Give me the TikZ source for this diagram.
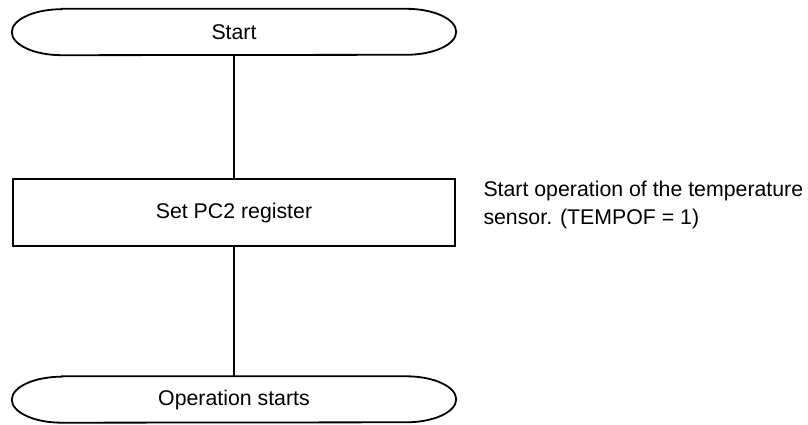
\documentclass[tikz,border=0pt]{standalone}
\usepackage{fontspec}
\setmainfont{Liberation Sans}
\begin{document}
\begin{tikzpicture}[x=1pt,y=1pt,
  lbl/.style={font=\fontsize{21.3}{28}\selectfont},
  termnode/.style={lbl, minimum width=444pt, minimum height=46pt, inner sep=0pt, draw=none},
  procbox/.style={lbl, draw, line width=1.8pt, minimum width=442.6pt, minimum height=67pt, inner sep=0pt},
  wire/.style={line width=1.8pt},
  noteline/.style={lbl, anchor=base west, inner sep=0pt}
]
\useasboundingbox (0,0) rectangle (808,425);
\node[termnode] (start) at (234,393) {Start};
\node[procbox] (set) at (234,212.2) {Set PC2 register};
\node[termnode] (opst) at (234,25.5) {Operation starts};
\node[noteline] (note1) at (483.3,228.3) {Start operation of the temperature};
\node[noteline] (note2) at (483.3,200.3) {sensor. (TEMPOF = 1)};
\foreach \n in {start,opst}{
  \draw[wire] ([xshift=50pt]\n.north west) -- ([xshift=-50pt]\n.north east)
    arc[start angle=90,end angle=-90,x radius=50pt,y radius=23pt]
    -- ([xshift=50pt]\n.south west)
    arc[start angle=270,end angle=90,x radius=50pt,y radius=23pt] -- cycle;
}
\draw[wire] (start.south) -- (set.north);
\draw[wire] (set.south) -- (opst.north);
\end{tikzpicture}
\end{document}
